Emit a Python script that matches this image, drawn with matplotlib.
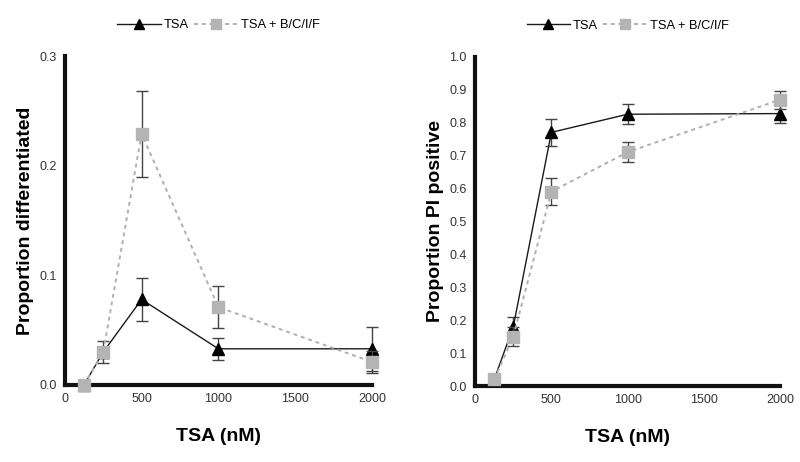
import matplotlib
matplotlib.use('Agg')
import matplotlib.pyplot as plt
from matplotlib.lines import Line2D
import numpy as np

plt.rcParams['font.family'] = ['Liberation Sans', 'DejaVu Sans']

# TSA concentrations (nM)
doses = [125, 250, 500, 1000, 2000]

# Left panel: proportion differentiated
diff_tsa = [0.0, 0.030, 0.078, 0.033, 0.033]
diff_tsa_err = [0.0, 0.010, 0.020, 0.010, 0.020]
diff_combo = [0.0, 0.030, 0.229, 0.071, 0.021]
diff_combo_err = [0.0, 0.005, 0.039, 0.019, 0.010]

# Right panel: proportion PI positive
pi_tsa = [0.02, 0.18, 0.77, 0.825, 0.827]
pi_tsa_err = [0.0, 0.03, 0.04, 0.03, 0.028]
pi_combo = [0.02, 0.15, 0.59, 0.71, 0.869]
pi_combo_err = [0.0, 0.03, 0.04, 0.03, 0.028]

x_ticks = [0, 500, 1000, 1500, 2000]

fig = plt.figure(figsize=(8, 4.62), dpi=100)
ax1 = fig.add_axes([0.081, 0.1667, 0.384, 0.712])
ax2 = fig.add_axes([0.594, 0.1645, 0.381, 0.713])

tsa_style = dict(color='#1a1a1a', lw=1.0, marker='^', ms=9, mfc='black', mec='black')
combo_style = dict(color='#b0b0b0', lw=1.4, ls=(0, (2, 2)), marker='s', ms=9,
                   mfc='#b4b4b4', mec='#b4b4b4')


def draw_panel(ax, tsa, tsa_err, combo, combo_err, ymax, ystep, ylabel):
    ax.errorbar(doses, tsa, yerr=tsa_err, **tsa_style,
                ecolor='#444444', elinewidth=1.0, capsize=4, capthick=1.0,
                clip_on=False, zorder=3)
    ax.errorbar(doses, combo, yerr=combo_err, **combo_style,
                ecolor='#444444', elinewidth=1.0, capsize=4, capthick=1.0,
                clip_on=False, zorder=4)
    ax.set_xlim(0, 2000)
    ax.set_ylim(0, ymax)
    ax.set_xticks(x_ticks)
    ax.set_yticks(np.round(np.arange(0, ymax + ystep / 2, ystep), 2))
    ax.yaxis.set_major_formatter(plt.FormatStrFormatter('%.1f'))
    ax.tick_params(length=0, labelsize=9, labelcolor='#333333', pad=6)
    for side in ['top', 'right']:
        ax.spines[side].set_visible(False)
    for side in ['left', 'bottom']:
        ax.spines[side].set_linewidth(3)
        ax.spines[side].set_color('#111111')
    ax.set_xlabel('TSA (nM)', fontsize=14, fontweight='bold', labelpad=16)
    ax.set_ylabel(ylabel, fontsize=14, fontweight='bold', labelpad=4)
    handles = [Line2D([], [], **dict(tsa_style, ms=7)),
               Line2D([], [], **dict(combo_style, ms=7))]
    ax.legend(handles, ['TSA', 'TSA + B/C/I/F'], loc='center',
              bbox_to_anchor=(0.5, 1.094), ncol=2, frameon=False,
              fontsize=9.3, handlelength=3.4, columnspacing=0.4, handletextpad=0.2)


draw_panel(ax1, diff_tsa, diff_tsa_err, diff_combo, diff_combo_err,
           0.3, 0.1, 'Proportion differentiated')
draw_panel(ax2, pi_tsa, pi_tsa_err, pi_combo, pi_combo_err,
           1.0, 0.1, 'Proportion PI positive')

fig.savefig('out.png', dpi=100)
